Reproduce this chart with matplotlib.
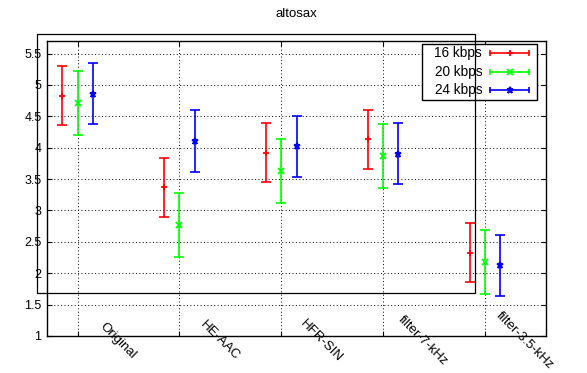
import numpy as np
import matplotlib
matplotlib.use('Agg')
import matplotlib.pyplot as plt
import matplotlib.transforms as mtransforms
from matplotlib.patches import Rectangle

plt.rcParams['font.family'] = ['Liberation Sans', 'DejaVu Sans']
plt.rcParams['font.size'] = 9

conditions = ['Original', 'HE-AAC', 'HFR-SIN', 'filter-7-kHz', 'filter-3.5-kHz']
series = ['16 kbps', '20 kbps', '24 kbps']
mean_16 = [4.83, 3.37, 3.92, 4.135, 2.325]
err_16 = [0.47, 0.47, 0.47, 0.47, 0.47]
mean_20 = [4.72, 2.775, 3.635, 3.875, 2.175]
err_20 = [0.51, 0.51, 0.51, 0.51, 0.51]
mean_24 = [4.86, 4.11, 4.02, 3.905, 2.125]
err_24 = [0.49, 0.49, 0.49, 0.49, 0.49]
yticks = [1, 1.5, 2, 2.5, 3, 3.5, 4, 4.5, 5, 5.5]

colors = ['#ff0000', '#00ff00', '#0000ff']
markers = ['+', 'x', '*']
offsets = [-0.15, 0.0, 0.15]

fig = plt.figure(figsize=(5.87, 3.73), dpi=100)
ax = fig.add_axes([47/587, 37/373, 499/587, 295/373])

x = np.arange(1, len(conditions) + 1)
for mean, err, c, m, off in zip([mean_16, mean_20, mean_24], [err_16, err_20, err_24],
                                colors, markers, offsets):
    ax.errorbar(x + off, mean, yerr=err, fmt='none', ecolor=c, elinewidth=1.2,
                capsize=3.7, capthick=1.2)
    ax.plot(x + off, mean, linestyle='none', marker=m, color=c, markersize=5,
            markeredgewidth=1.3)

ax.set_xlim(0.7, 5.6)
ax.set_ylim(1, 5.7)
ax.set_xticks(x)
ax.set_xticklabels([])
ax.set_yticks(yticks)
ax.set_yticklabels(['%g' % v for v in yticks])
ax.tick_params(direction='in', length=3.5, width=0.8, top=True, right=True, pad=4)
ax.grid(True, color='black', linestyle=(0, (1, 2.5)), linewidth=0.7)
for s in ax.spines.values():
    s.set_linewidth(1.0)

# rotated category labels
off = mtransforms.ScaledTranslation(0.40, -0.05, fig.dpi_scale_trans)
trans = mtransforms.blended_transform_factory(ax.transData, ax.transAxes) + off
for xi, lab in zip(x, conditions):
    ax.text(xi, 0, lab, transform=trans, rotation=-45, rotation_mode='anchor',
            ha='center', va='center', clip_on=False, fontsize=9.5)

ax.set_title('altosax', pad=17, fontsize=9.5)

# key, drawn the gnuplot way
ax.add_patch(Rectangle((0.7515, 0.80), 0.2305, 0.19, transform=ax.transAxes,
                       fill=True, facecolor='white', edgecolor='black', lw=1.0, zorder=5))
rows = [0.959, 0.895, 0.834]
for name, c, m, yr in zip(series, colors, markers, rows):
    ax.text(0.872, yr, name, transform=ax.transAxes, ha='right', va='center',
            fontsize=9.8, zorder=6)
    ax.plot([0.888, 0.966], [yr, yr], color=c, lw=1.2, transform=ax.transAxes, zorder=6)
    ax.plot([0.888, 0.966], [yr, yr], linestyle='none', marker='|', color=c,
            markersize=4, markeredgewidth=1.2, transform=ax.transAxes, zorder=6)
    ax.plot([0.927], [yr], linestyle='none', marker=m, color=c, markersize=5,
            markeredgewidth=1.3, transform=ax.transAxes, zorder=6)

# stray frame present in the original image
fig.add_artist(Rectangle((36.7/587, 79.7/373), 438.6/587, 259/373,
                         transform=fig.transFigure, fill=False, edgecolor='black',
                         lw=0.9, zorder=10))

fig.savefig('out.png', dpi=100)
